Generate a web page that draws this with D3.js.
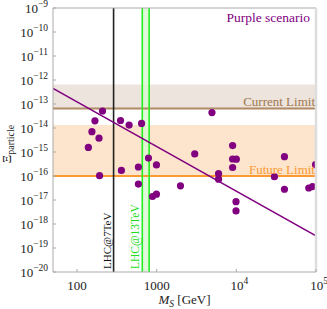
<!DOCTYPE html>
<html>
<head>
<meta charset="utf-8">
<script src="https://cdnjs.cloudflare.com/ajax/libs/d3/7.8.5/d3.min.js"></script>
<style>
 body { margin:0; background:#fff; }
 text { font-family: "Liberation Serif", "Times New Roman", serif; }
</style>
</head>
<body>
<div id="chart"></div>
<script>
// masses (GeV) and Xi values of the scan points
var massPts = [139, 154, 168, 189, 192, 209, 352, 361, 451, 590, 590, 647, 789, 886, 994, 994,
               1990, 3005, 4945, 5985, 5985, 8980, 8980, 10000, 8980, 9910, 9910, 30070, 40180, 40180,
               81100, 90400, 98600];
var xiPts   = [1.55e-15, 7.0e-15, 2.0e-14, 3.75e-15, 1.03e-16, 5.1e-14, 2.05e-14, 1.7e-16, 1.33e-14, 2.37e-16,
               4.6e-17, 1.55e-14, 5.6e-16, 1.4e-17, 1.75e-17, 2.9e-16, 3.9e-17, 8.3e-16, 4.4e-14, 1.25e-16,
               7.4e-17, 1.86e-15, 5.1e-16, 5.0e-16, 2.26e-16, 8.5e-18, 3.5e-18, 9.4e-17, 6.4e-16, 2.8e-17,
               3.16e-17, 3.6e-17, 3.0e-16];

// purple trend line
var lineM  = [50, 1e5];
var lineXi = [4.5e-13, 3.2e-19];

// limits
var currentLimit = 6.5e-14, currentBandTop = 6.5e-13;
var futureLimit = 1.0e-16, futureBandTop = 1.33e-14;
var lhc7 = 288;
var lhc13 = [660, 805];

var xTicks = [100, 1000, 1e4, 1e5];
var xTickLabels = ["100", "1000", "10|4", "10|5"];
var yTicks = [1e-9, 1e-10, 1e-11, 1e-12, 1e-13, 1e-14, 1e-15, 1e-16, 1e-17, 1e-18, 1e-19, 1e-20];

function init() {
  var W = 327, H = 309;
  var m = {left: 53, top: 8, right: 11, bottom: 37};
  var width = W - m.left - m.right, height = H - m.top - m.bottom;

  var svg = d3.select("#chart").append("svg")
    .attr("width", W).attr("height", H)
    .append("g")
    .attr("transform", "translate(" + m.left + "," + m.top + ")");

  var x = d3.scaleLog().domain([50, 1e5]).range([0, width]);
  var y = d3.scaleLog().domain([1e-20, 1e-9]).range([height, 0]);

  svg.append("defs").append("clipPath").attr("id", "clip")
    .append("rect").attr("width", width).attr("height", height);

  var plot = svg.append("g").attr("clip-path", "url(#clip)");

  // bands
  plot.append("rect")
    .attr("x", 0).attr("width", width)
    .attr("y", y(currentBandTop)).attr("height", y(currentLimit) - y(currentBandTop))
    .style("fill", "#ede4de");
  plot.append("rect")
    .attr("x", 0).attr("width", width)
    .attr("y", y(futureBandTop)).attr("height", y(futureLimit) - y(futureBandTop))
    .style("fill", "#fde4cc");

  // LHC13 region
  plot.append("rect")
    .attr("x", x(lhc13[0])).attr("width", x(lhc13[1]) - x(lhc13[0]))
    .attr("y", 0).attr("height", height)
    .style("fill", "#d8f8d0").style("opacity", 0.8);

  // limit lines
  plot.append("line")
    .attr("x1", 0).attr("x2", width)
    .attr("y1", y(currentLimit)).attr("y2", y(currentLimit))
    .style("stroke", "#b08a64").style("stroke-width", 2);
  plot.append("line")
    .attr("x1", 0).attr("x2", width)
    .attr("y1", y(futureLimit)).attr("y2", y(futureLimit))
    .style("stroke", "#fb9a30").style("stroke-width", 2);

  // LHC lines
  plot.append("line")
    .attr("x1", x(lhc7)).attr("x2", x(lhc7))
    .attr("y1", 0).attr("y2", height)
    .style("stroke", "#222").style("stroke-width", 1.6);
  plot.selectAll(".lhc13")
    .data(lhc13).enter().append("line")
    .attr("x1", function(d){ return x(d); }).attr("x2", function(d){ return x(d); })
    .attr("y1", 0).attr("y2", height)
    .style("stroke", "#22ee22").style("stroke-width", 1.6);

  // trend line
  var lineData = lineM.map(function(d, i){ return [d, lineXi[i]]; });
  plot.append("path")
    .datum(lineData)
    .attr("d", d3.line().x(function(d){ return x(d[0]); }).y(function(d){ return y(d[1]); }))
    .style("fill", "none").style("stroke", "#800080").style("stroke-width", 1.5);

  // points
  plot.selectAll(".dot")
    .data(massPts).enter().append("circle")
    .attr("class", "dot")
    .attr("cx", function(d){ return x(d); })
    .attr("cy", function(d, i){ return y(xiPts[i]); })
    .attr("r", 3.6)
    .style("fill", "#800080");

  // frame
  svg.append("line").attr("x1", 0).attr("x2", width).attr("y1", 0).attr("y2", 0)
    .style("stroke", "#aaa").style("stroke-width", 1);
  svg.append("line").attr("x1", width).attr("x2", width).attr("y1", 0).attr("y2", height)
    .style("stroke", "#ddd").style("stroke-width", 2.5);
  svg.append("line").attr("x1", 0).attr("x2", 0).attr("y1", 0).attr("y2", height)
    .style("stroke", "#aaa").style("stroke-width", 1);
  svg.append("line").attr("x1", 0).attr("x2", width).attr("y1", height).attr("y2", height)
    .style("stroke", "#aaa").style("stroke-width", 1);

  // ticks
  svg.selectAll(".yt").data(yTicks).enter().append("line")
    .attr("x1", 0).attr("x2", 3)
    .attr("y1", function(d){ return y(d); }).attr("y2", function(d){ return y(d); })
    .style("stroke", "#aaa");
  svg.selectAll(".xt").data(xTicks).enter().append("line")
    .attr("y1", height).attr("y2", height - 3)
    .attr("x1", function(d){ return x(d); }).attr("x2", function(d){ return x(d); })
    .style("stroke", "#aaa");

  // y tick labels
  var yl = svg.selectAll(".yl").data(yTicks).enter().append("text")
    .attr("x", -5)
    .attr("y", function(d){ return y(d) + 5; })
    .attr("text-anchor", "end")
    .style("font-size", "13px")
    .style("fill", "#222");
  yl.append("tspan").text("10");
  yl.append("tspan")
    .attr("dy", -6).style("font-size", "9.5px")
    .text(function(d){ return "\u2212" + Math.round(-Math.log10(d)); });

  // x tick labels
  var xl = svg.selectAll(".xl").data(xTicks).enter().append("text")
    .attr("x", function(d){ return x(d); })
    .attr("y", height + 18)
    .attr("text-anchor", "middle")
    .style("font-size", "13px")
    .style("fill", "#222");
  xl.each(function(d, i){
    var parts = xTickLabels[i].split("|");
    var t = d3.select(this);
    t.append("tspan").text(parts[0]);
    if (parts[1]) t.append("tspan").attr("dy", -6).style("font-size", "9.5px").text(parts[1]);
    if (parts[1]) t.attr("x", x(d) + 3);
  });

  // axis titles
  var xt = svg.append("text")
    .attr("x", width / 2).attr("y", height + 32)
    .attr("text-anchor", "middle")
    .style("font-size", "13px").style("fill", "#222");
  xt.append("tspan").style("font-style", "italic").text("M");
  xt.append("tspan").attr("dy", 3).style("font-style", "italic").style("font-size", "9.5px").text("S");
  xt.append("tspan").attr("dy", -3).text(" [GeV]");

  var ytl = svg.append("text")
    .attr("transform", "translate(-42," + (height / 2 + 4) + ") rotate(-90)")
    .attr("text-anchor", "middle")
    .style("font-size", "13px").style("fill", "#222");
  ytl.append("tspan").text("\u039E");
  ytl.append("tspan").attr("dy", 3).style("font-size", "10px").text("particle");

  // annotations
  svg.append("text")
    .attr("x", width - 6).attr("y", 14)
    .attr("text-anchor", "end")
    .style("font-size", "13.5px").style("fill", "#800080")
    .text("Purple scenario");
  svg.append("text")
    .attr("x", width - 1).attr("y", y(currentLimit) - 2)
    .attr("text-anchor", "end")
    .style("font-size", "13px").style("fill", "#a0784c")
    .text("Current Limit");
  svg.append("text")
    .attr("x", width - 1).attr("y", y(futureLimit) - 2)
    .attr("text-anchor", "end")
    .style("font-size", "13px").style("fill", "#fb9a30")
    .text("Future Limit");
  svg.append("text")
    .attr("transform", "translate(" + (x(lhc7) - 3) + "," + (height - 3) + ") rotate(-90)")
    .style("font-size", "11px").style("fill", "#111")
    .text("LHC@7TeV");
  svg.append("text")
    .attr("transform", "translate(" + (x(lhc13[0]) - 3) + "," + (height - 3) + ") rotate(-90)")
    .style("font-size", "11.5px").style("fill", "#22dd22")
    .text("LHC@13TeV");
}
window.onload = init;
</script>
</body>
</html>
